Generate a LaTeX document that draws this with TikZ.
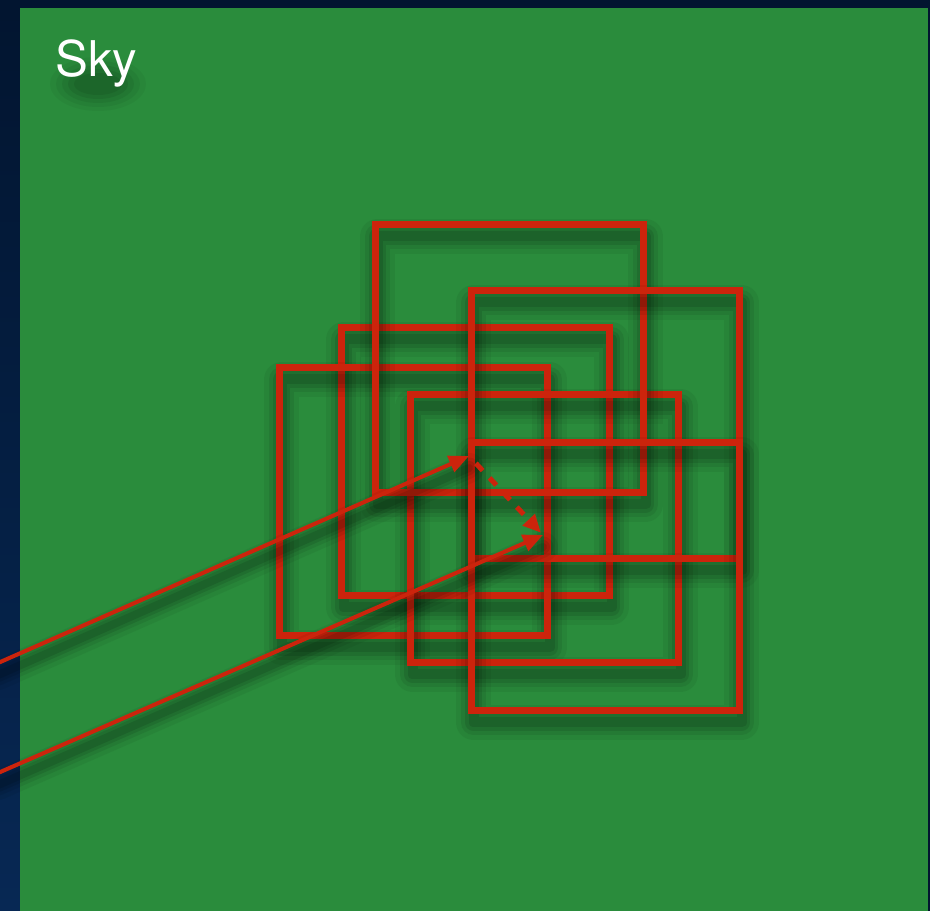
\documentclass[tikz,border=0pt]{standalone}
\usepackage{fontspec}
\setmainfont{TeX Gyre Heros}
\usetikzlibrary{arrows.meta}

\definecolor{skyNavy}{RGB}{2,21,48}
\definecolor{skyNavyLight}{RGB}{7,40,84}
\definecolor{skyGreen}{RGB}{42,140,60}
\definecolor{skyRed}{RGB}{204,36,12}

\begin{document}
\begin{tikzpicture}[x=.2mm,y=-.2mm,
      frame/.style={draw=skyRed, line width=1.4mm},
      ray/.style={draw=skyRed, line width=.8mm,
        -{Triangle[length=4mm,width=3.4mm]}},
      dashray/.style={draw=skyRed, line width=1mm, dash pattern=on 2mm off 2mm,
        -{Triangle[length=3.6mm,width=3.2mm]}, shorten <=2mm, shorten >=.6mm},
      umbra/.style={draw=black, line cap=round, line join=round},
      label/.style={font=\fontsize{28}{30}\selectfont, anchor=base west,
        inner sep=0pt}]
      \useasboundingbox (0,0) rectangle (930,911);
      \fill[skyNavy] (0,0) rectangle (930,911);
      \shade[top color=skyNavy, bottom color=skyNavyLight] (0,8) rectangle (20,911);
      \fill[skyGreen] (20,8) rectangle (928,911);

      % soft shadow under the title
      \foreach \rx/\ry/\o in {9.6/5.4/.04, 8.4/4.6/.05, 7.2/3.8/.06, 6/3/.07, 4.8/2.2/.07}
        \fill[black, opacity=\o] (98,84) ellipse [x radius=\rx mm, y radius=\ry mm];
      \node[label, text=white] (skyLabel) at (55,77) {Sky};

      % squares, each with its shadow
      \foreach \x/\y in {341.5/327.5, 279.5/367.5, 410.5/394.5,
                         375.5/224.5, 471.5/290.5, 471.5/442.5}{
        \foreach \w/\o in {7mm/.05, 5mm/.07, 3.4mm/.09, 2mm/.10}
          \draw[umbra, opacity=\o, line width=\w] (\x+2,\y+12) rectangle ++(268,268);
        \draw[frame] (\x,\y) rectangle ++(268,268);
      }

      \coordinate (srcUpper) at (-2,663);
      \coordinate (tipUpper) at (469,456);
      \coordinate (srcLower) at (-2,773);
      \coordinate (tipLower) at (543,535);

      % ray shadows
      \foreach \w/\o in {6mm/.05, 4.2mm/.07, 2.8mm/.09, 1.6mm/.10}{
        \draw[umbra, opacity=\o, line width=\w] ([yshift=-2.4mm]srcUpper) -- ([yshift=-2.4mm]tipUpper);
        \draw[umbra, opacity=\o, line width=\w] ([yshift=-2.4mm]srcLower) -- ([yshift=-2.4mm]tipLower);
      }

      \draw[ray] (srcUpper) -- (tipUpper);
      \draw[ray] (srcLower) -- (tipLower);
      \draw[dashray] (tipUpper) -- (tipLower);
    \end{tikzpicture}
\end{document}
